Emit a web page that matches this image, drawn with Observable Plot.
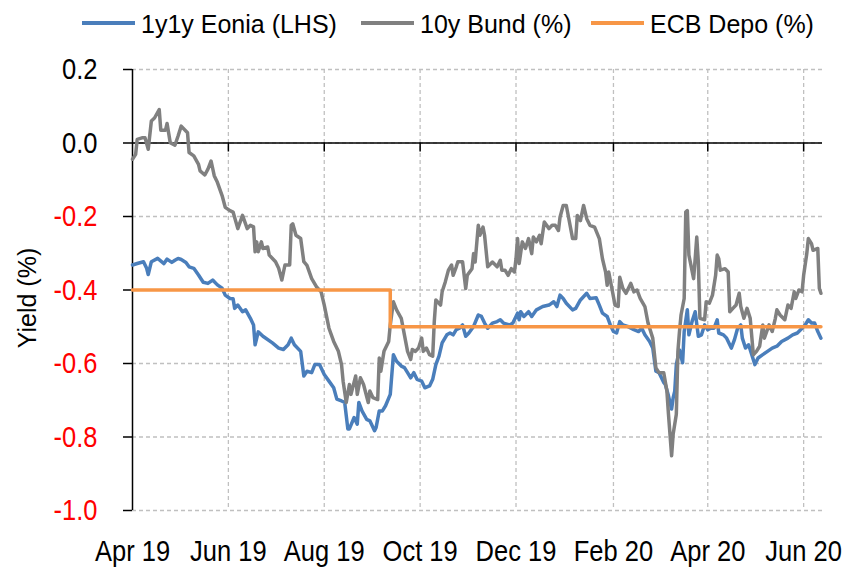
<!DOCTYPE html>
<html><head><meta charset="utf-8">
<script src="https://cdn.jsdelivr.net/npm/d3@7"></script>
<script src="https://cdn.jsdelivr.net/npm/@observablehq/plot@0.6"></script>
<style>
html,body{margin:0;padding:0;background:#fff;}
#wrap{width:848px;height:569px;position:relative;overflow:hidden;background:#fff;}
#legend{position:relative;height:46px;width:848px;font-family:"Liberation Sans",Arial,sans-serif;font-size:25px;color:#000;}
.sw{position:absolute;top:21px;height:4px;width:53px;}
.lt{position:absolute;top:9px;line-height:30px;white-space:nowrap;}
svg{display:block}
</style></head><body>
<div id="wrap"><div id="legend"></div><div id="chart"></div></div>
<script>
const seriesNames = ["1y1y Eonia (LHS)", "10y Bund (%)", "ECB Depo (%)"];
const seriesColors = ["#4A7EBB", "#808080", "#F79646"];

const xTickDates = ["2019-04-01","2019-06-01","2019-08-01","2019-10-01","2019-12-01","2020-02-01","2020-04-01","2020-06-01"];
const xTickLabels = ["Apr 19","Jun 19","Aug 19","Oct 19","Dec 19","Feb 20","Apr 20","Jun 20"];
const yTicks = [0.2, 0.0, -0.2, -0.4, -0.6, -0.8, -1.0];

const eoniaDates = ["2019-04-01","2019-04-04","2019-04-08","2019-04-10","2019-04-11","2019-04-13","2019-04-17","2019-04-21","2019-04-23","2019-04-26","2019-04-28","2019-04-30","2019-05-02","2019-05-05","2019-05-07","2019-05-10","2019-05-13","2019-05-16","2019-05-19","2019-05-22","2019-05-25","2019-05-28","2019-05-30","2019-06-02","2019-06-04","2019-06-05","2019-06-07","2019-06-10","2019-06-12","2019-06-15","2019-06-17","2019-06-18","2019-06-20","2019-06-23","2019-06-29","2019-07-03","2019-07-06","2019-07-09","2019-07-11","2019-07-13","2019-07-17","2019-07-19","2019-07-21","2019-07-24","2019-07-26","2019-07-29","2019-08-01","2019-08-04","2019-08-07","2019-08-09","2019-08-12","2019-08-14","2019-08-16","2019-08-17","2019-08-20","2019-08-22","2019-08-23","2019-08-25","2019-08-28","2019-08-30","2019-09-02","2019-09-03","2019-09-05","2019-09-07","2019-09-09","2019-09-12","2019-09-14","2019-09-16","2019-09-19","2019-09-21","2019-09-23","2019-09-25","2019-09-27","2019-09-29","2019-10-02","2019-10-04","2019-10-07","2019-10-09","2019-10-11","2019-10-13","2019-10-15","2019-10-18","2019-10-20","2019-10-22","2019-10-24","2019-10-26","2019-10-28","2019-10-30","2019-11-01","2019-11-04","2019-11-07","2019-11-09","2019-11-11","2019-11-13","2019-11-16","2019-11-19","2019-11-21","2019-11-23","2019-11-27","2019-11-29","2019-12-02","2019-12-03","2019-12-04","2019-12-06","2019-12-09","2019-12-11","2019-12-14","2019-12-18","2019-12-22","2019-12-25","2019-12-27","2019-12-29","2019-12-31","2020-01-02","2020-01-06","2020-01-08","2020-01-11","2020-01-15","2020-01-17","2020-01-21","2020-01-23","2020-01-25","2020-01-28","2020-01-30","2020-02-01","2020-02-03","2020-02-05","2020-02-07","2020-02-10","2020-02-14","2020-02-17","2020-02-19","2020-02-21","2020-02-24","2020-02-26","2020-02-28","2020-03-01","2020-03-04","2020-03-05","2020-03-07","2020-03-09","2020-03-10","2020-03-11","2020-03-12","2020-03-14","2020-03-16","2020-03-17","2020-03-19","2020-03-20","2020-03-22","2020-03-24","2020-03-26","2020-03-28","2020-03-30","2020-04-01","2020-04-03","2020-04-05","2020-04-07","2020-04-08","2020-04-11","2020-04-13","2020-04-16","2020-04-18","2020-04-20","2020-04-22","2020-04-23","2020-04-25","2020-04-27","2020-04-29","2020-05-01","2020-05-03","2020-05-06","2020-05-09","2020-05-12","2020-05-15","2020-05-18","2020-05-22","2020-05-25","2020-05-28","2020-05-31","2020-06-02","2020-06-04","2020-06-06","2020-06-08","2020-06-10","2020-06-12"];
const eoniaValues = [-0.332,-0.328,-0.323,-0.341,-0.358,-0.323,-0.314,-0.328,-0.316,-0.325,-0.319,-0.314,-0.317,-0.325,-0.337,-0.341,-0.359,-0.379,-0.382,-0.373,-0.386,-0.395,-0.414,-0.423,-0.424,-0.450,-0.441,-0.459,-0.454,-0.477,-0.495,-0.549,-0.514,-0.526,-0.544,-0.558,-0.562,-0.549,-0.531,-0.549,-0.567,-0.634,-0.621,-0.625,-0.603,-0.603,-0.630,-0.648,-0.666,-0.697,-0.702,-0.706,-0.778,-0.778,-0.747,-0.765,-0.706,-0.729,-0.752,-0.756,-0.783,-0.774,-0.729,-0.729,-0.715,-0.684,-0.576,-0.594,-0.607,-0.611,-0.625,-0.639,-0.625,-0.643,-0.648,-0.666,-0.661,-0.643,-0.603,-0.580,-0.544,-0.522,-0.517,-0.522,-0.508,-0.504,-0.495,-0.526,-0.517,-0.499,-0.468,-0.472,-0.490,-0.504,-0.490,-0.486,-0.481,-0.490,-0.495,-0.490,-0.463,-0.481,-0.459,-0.472,-0.459,-0.472,-0.454,-0.445,-0.441,-0.432,-0.445,-0.414,-0.423,-0.436,-0.454,-0.450,-0.427,-0.409,-0.423,-0.421,-0.441,-0.463,-0.472,-0.495,-0.513,-0.517,-0.486,-0.495,-0.499,-0.508,-0.513,-0.504,-0.522,-0.540,-0.558,-0.621,-0.625,-0.652,-0.657,-0.688,-0.724,-0.693,-0.675,-0.603,-0.563,-0.598,-0.513,-0.454,-0.522,-0.486,-0.459,-0.526,-0.522,-0.495,-0.508,-0.504,-0.504,-0.481,-0.517,-0.522,-0.531,-0.558,-0.535,-0.504,-0.495,-0.531,-0.558,-0.549,-0.576,-0.603,-0.585,-0.576,-0.567,-0.558,-0.553,-0.540,-0.531,-0.522,-0.517,-0.504,-0.495,-0.481,-0.490,-0.490,-0.513,-0.531];

const bundDates = ["2019-04-01","2019-04-03","2019-04-04","2019-04-07","2019-04-09","2019-04-11","2019-04-13","2019-04-15","2019-04-18","2019-04-19","2019-04-22","2019-04-23","2019-04-25","2019-04-28","2019-04-30","2019-05-02","2019-05-06","2019-05-07","2019-05-10","2019-05-13","2019-05-14","2019-05-17","2019-05-19","2019-05-21","2019-05-23","2019-05-25","2019-05-28","2019-05-30","2019-06-02","2019-06-04","2019-06-07","2019-06-10","2019-06-13","2019-06-15","2019-06-17","2019-06-18","2019-06-19","2019-06-20","2019-06-22","2019-06-23","2019-06-26","2019-06-27","2019-07-01","2019-07-03","2019-07-05","2019-07-07","2019-07-10","2019-07-11","2019-07-12","2019-07-14","2019-07-17","2019-07-19","2019-07-21","2019-07-24","2019-07-27","2019-07-30","2019-08-01","2019-08-04","2019-08-07","2019-08-10","2019-08-12","2019-08-13","2019-08-15","2019-08-17","2019-08-18","2019-08-21","2019-08-22","2019-08-24","2019-08-26","2019-08-29","2019-08-30","2019-09-01","2019-09-04","2019-09-05","2019-09-06","2019-09-08","2019-09-11","2019-09-12","2019-09-14","2019-09-16","2019-09-19","2019-09-21","2019-09-23","2019-09-25","2019-09-26","2019-09-28","2019-09-30","2019-10-02","2019-10-03","2019-10-05","2019-10-07","2019-10-09","2019-10-10","2019-10-11","2019-10-14","2019-10-15","2019-10-17","2019-10-19","2019-10-21","2019-10-22","2019-10-24","2019-10-25","2019-10-28","2019-10-30","2019-10-31","2019-11-03","2019-11-04","2019-11-05","2019-11-07","2019-11-08","2019-11-10","2019-11-11","2019-11-13","2019-11-16","2019-11-19","2019-11-21","2019-11-22","2019-11-24","2019-11-26","2019-11-28","2019-11-30","2019-12-01","2019-12-02","2019-12-03","2019-12-05","2019-12-07","2019-12-09","2019-12-11","2019-12-12","2019-12-14","2019-12-16","2019-12-17","2019-12-19","2019-12-22","2019-12-24","2019-12-26","2019-12-28","2019-12-29","2019-12-31","2020-01-02","2020-01-04","2020-01-06","2020-01-08","2020-01-09","2020-01-11","2020-01-13","2020-01-15","2020-01-17","2020-01-20","2020-01-23","2020-01-25","2020-01-27","2020-01-28","2020-01-29","2020-01-31","2020-02-02","2020-02-04","2020-02-05","2020-02-07","2020-02-09","2020-02-12","2020-02-14","2020-02-16","2020-02-18","2020-02-21","2020-02-23","2020-02-26","2020-02-28","2020-03-01","2020-03-04","2020-03-06","2020-03-07","2020-03-09","2020-03-10","2020-03-12","2020-03-13","2020-03-14","2020-03-15","2020-03-17","2020-03-18","2020-03-19","2020-03-20","2020-03-23","2020-03-24","2020-03-25","2020-03-26","2020-03-27","2020-03-30","2020-03-31","2020-04-02","2020-04-04","2020-04-06","2020-04-07","2020-04-08","2020-04-09","2020-04-12","2020-04-14","2020-04-15","2020-04-17","2020-04-19","2020-04-21","2020-04-22","2020-04-24","2020-04-26","2020-04-28","2020-04-30","2020-05-02","2020-05-04","2020-05-06","2020-05-07","2020-05-10","2020-05-12","2020-05-14","2020-05-15","2020-05-17","2020-05-20","2020-05-22","2020-05-24","2020-05-26","2020-05-27","2020-05-29","2020-05-31","2020-06-01","2020-06-03","2020-06-04","2020-06-06","2020-06-07","2020-06-10","2020-06-11","2020-06-12"];
const bundValues = [-0.044,-0.031,0.010,0.014,0.014,-0.017,0.060,0.068,0.091,0.035,0.035,0.053,0.001,-0.006,0.019,0.046,0.028,-0.026,-0.035,-0.058,-0.076,-0.087,-0.071,-0.049,-0.089,-0.107,-0.143,-0.175,-0.184,-0.188,-0.233,-0.197,-0.233,-0.224,-0.228,-0.296,-0.269,-0.296,-0.269,-0.287,-0.283,-0.305,-0.323,-0.341,-0.373,-0.332,-0.332,-0.224,-0.220,-0.251,-0.260,-0.323,-0.333,-0.369,-0.391,-0.405,-0.441,-0.504,-0.540,-0.567,-0.603,-0.648,-0.706,-0.657,-0.684,-0.634,-0.684,-0.639,-0.657,-0.706,-0.675,-0.693,-0.698,-0.585,-0.621,-0.567,-0.540,-0.495,-0.432,-0.454,-0.477,-0.522,-0.567,-0.589,-0.562,-0.567,-0.558,-0.531,-0.567,-0.558,-0.576,-0.580,-0.486,-0.427,-0.441,-0.405,-0.378,-0.346,-0.332,-0.360,-0.337,-0.323,-0.323,-0.396,-0.360,-0.342,-0.301,-0.324,-0.224,-0.251,-0.229,-0.251,-0.337,-0.324,-0.337,-0.319,-0.346,-0.346,-0.360,-0.342,-0.351,-0.315,-0.260,-0.328,-0.269,-0.287,-0.260,-0.301,-0.256,-0.269,-0.251,-0.274,-0.215,-0.233,-0.224,-0.224,-0.238,-0.202,-0.170,-0.170,-0.215,-0.260,-0.260,-0.197,-0.211,-0.170,-0.206,-0.224,-0.229,-0.260,-0.315,-0.351,-0.387,-0.351,-0.396,-0.441,-0.445,-0.365,-0.396,-0.409,-0.382,-0.405,-0.400,-0.423,-0.445,-0.490,-0.531,-0.612,-0.625,-0.625,-0.675,-0.738,-0.851,-0.792,-0.738,-0.567,-0.513,-0.468,-0.423,-0.188,-0.184,-0.305,-0.369,-0.315,-0.256,-0.324,-0.477,-0.481,-0.432,-0.436,-0.414,-0.360,-0.305,-0.315,-0.346,-0.342,-0.351,-0.459,-0.450,-0.441,-0.409,-0.445,-0.477,-0.450,-0.477,-0.576,-0.567,-0.553,-0.495,-0.531,-0.495,-0.513,-0.477,-0.454,-0.468,-0.481,-0.441,-0.450,-0.405,-0.423,-0.400,-0.405,-0.360,-0.301,-0.260,-0.274,-0.292,-0.287,-0.396,-0.409];

const depoDates = ["2019-04-01","2019-09-12","2020-06-12"];
const depoValues = [-0.4,-0.5,-0.5];

// Legend
const legend = document.getElementById("legend");
const swLeft = [82, 361, 591];
seriesNames.forEach((name, i) => {
  const sw = document.createElement("div");
  sw.className = "sw"; sw.style.left = swLeft[i] + "px"; sw.style.background = seriesColors[i];
  legend.appendChild(sw);
  const t = document.createElement("div");
  t.className = "lt"; t.style.left = (swLeft[i] + 59) + "px"; t.textContent = name;
  legend.appendChild(t);
});

const toRows = (ds, vs) => ds.map((d, i) => ({date: new Date(d), value: vs[i]}));
const eonia = toRows(eoniaDates, eoniaValues);
const bund = toRows(bundDates, bundValues);
const depo = toRows(depoDates, depoValues);
const xt = xTickDates.map(d => new Date(d));
const tickFont = '"Liberation Sans",Arial,sans-serif';
const grid = {stroke: "#c0c0c0", strokeOpacity: 1, strokeWidth: 1.3, strokeDasharray: "4,3"};

const chart = Plot.plot({
  width: 848, height: 523,
  marginTop: 23, marginBottom: 59, marginLeft: 132, marginRight: 26,
  x: {type: "utc", domain: [new Date("2019-04-01"), new Date("2020-06-13")]},
  y: {domain: [-1, 0.2]},
  style: {background: "white", overflow: "visible", color: "black"},
  marks: [
    Plot.gridY(yTicks, grid),
    Plot.gridX(xt.slice(1), grid),
    Plot.ruleY([0], {stroke: "black", strokeWidth: 1.5}),
    Plot.ruleX(xt.slice(1), {y1: 0, y2: 0, insetBottom: -9, stroke: "black", strokeWidth: 1.5}),
    Plot.ruleX([xt[0]], {stroke: "black", strokeWidth: 1.5}),
    Plot.axisY(yTicks, {tickSize: 9, tickPadding: 26, tickFormat: d => d.toFixed(1),
      fill: d => d < 0 ? "#ff0000" : "#000000", fontSize: 30, fontFamily: tickFont,
      strokeWidth: 1.5, label: null}),
    Plot.axisX(xt, {tickSize: 0, tickPadding: 29,
      tickFormat: d => xTickLabels[xt.findIndex(t => +t === +d)],
      fontSize: 30, fontFamily: tickFont, label: null}),
    Plot.line(eonia, {x: "date", y: "value", stroke: seriesColors[0], strokeWidth: 3.5}),
    Plot.line(bund, {x: "date", y: "value", stroke: seriesColors[1], strokeWidth: 3.5}),
    Plot.line(depo, {x: "date", y: "value", stroke: seriesColors[2], strokeWidth: 3.5, curve: "step-after"}),
    Plot.text(["Yield (%)"], {frameAnchor: "left", textAnchor: "middle", lineAnchor: "middle",
      rotate: -90, dx: -105, dy: 8, fontSize: 25,
      fontFamily: '"Liberation Sans",Arial,sans-serif', fill: "black"})
  ]
});
document.getElementById("chart").appendChild(chart);

// Condense tick label glyphs horizontally to match the narrow face of the reference
d3.select(chart).selectAll('g[aria-label="x-axis tick label"] text, g[aria-label="y-axis tick label"] text')
  .each(function() {
    const len = this.getComputedTextLength();
    this.setAttribute("textLength", (len * 0.85).toFixed(1));
    this.setAttribute("lengthAdjust", "spacingAndGlyphs");
  });
</script>
</body></html>
